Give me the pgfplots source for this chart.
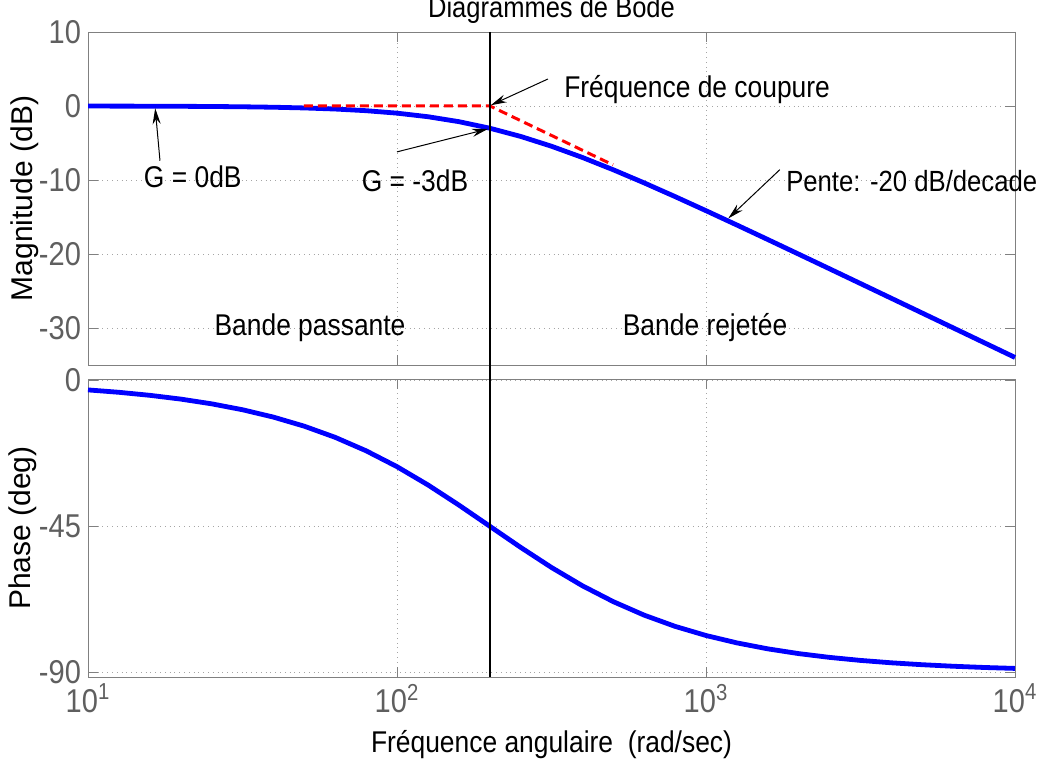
\documentclass[border=0pt]{standalone}
\usepackage{fontspec}
\setmainfont{Liberation Sans}[FakeStretch=0.88]
\newfontfamily\rotfont{Liberation Sans}
\usepackage{pgfplots}
\usepackage{pgfplotstable}
\pgfplotsset{compat=1.18}
\usetikzlibrary{arrows.meta}
\definecolor{axgray}{RGB}{128,128,128}
\definecolor{tickgray}{RGB}{95,95,95}
\definecolor{gridgray}{RGB}{165,165,165}

\pgfplotstableread{
w mag phase
10 -0.0108 -2.862
12.589 -0.0172 -3.602
15.849 -0.0272 -4.531
19.953 -0.0430 -5.697
25.119 -0.0680 -7.158
31.623 -0.1072 -8.985
39.811 -0.1688 -11.257
50.119 -0.2645 -14.069
63.096 -0.4120 -17.510
79.433 -0.6361 -21.66
100 -0.9691 -26.565
125.89 -1.4495 -32.19
158.49 -2.1164 -38.40
199.53 -3.0000 -44.93
251.19 -4.1117 -51.47
316.23 -5.4407 -57.69
398.11 -6.9568 -63.33
501.19 -8.6212 -68.24
630.96 -10.395 -72.41
794.33 -12.2463 -75.87
1000 -14.150 -78.69
1258.9 -16.0877 -80.97
1584.9 -18.048 -82.81
1995.3 -20.023 -84.28
2511.9 -22.007 -85.45
3162.3 -23.997 -86.38
3981.1 -25.990 -87.12
5011.9 -27.986 -87.71
6309.6 -29.984 -88.18
7943.3 -31.983 -88.56
10000 -33.981 -88.85
}\bode

\tikzset{
  annot/.style={font=\fontsize{15}{18}\selectfont, text=black},
  arr/.style={-{Stealth[length=8pt,width=4pt]}, black, line width=0.5pt},
}

\begin{document}
\begin{tikzpicture}[font=\fontsize{15}{18}\selectfont]
\useasboundingbox (0,0) rectangle (523.5pt,381.5pt);

% ---------- Magnitude ----------
\begin{axis}[
  scale only axis,
  width=463.5pt,
  xmode=log, log basis x=10,
  xmin=10, xmax=10000,
  xtick={10,100,1000,10000},
  axis line style={axgray},
  tick style={axgray},
  tick align=inside,
  major tick length=5pt, minor tick length=3pt,
  xmajorgrids, xminorgrids, ymajorgrids,
  major grid style={dotted, gridgray},
  minor grid style={dotted, gridgray},
  tick label style={tickgray, font=\fontsize{16.5}{19}\selectfont},
  /pgf/number format/assume math mode=true,
  clip=false,
  at={(44pt,199pt)}, anchor=south west,
  height=166.5pt,
  ymin=-35, ymax=10,
  ytick={-30,-20,-10,0,10},
  xticklabels={},
  ylabel={\rotfont Magnitude (dB)},
  ylabel style={at={(axis description cs:-0.068,0.5)}, anchor=center, font=\fontsize{15}{18}\selectfont, black},
  title={Diagrammes de Bode},
  title style={at={(axis description cs:0.5,1)}, anchor=base, yshift=1pt, inner sep=0pt, font=\fontsize{14.5}{17}\selectfont},
]
\addplot[blue, line width=2.4pt] table[x=w, y=mag] {\bode};
\addplot[red, line width=1.5pt, dash pattern=on 4.5pt off 2.5pt] coordinates {(50,0) (200,0) (500,-7.96)};
\draw[black, line width=1.3pt] (axis cs:200,10) -- (axis cs:200,-36.9);

\node[annot, anchor=west] at (axis cs:330,2.2) {Fréquence de coupure};
\draw[arr] (axis cs:308,3.65) -- (axis cs:201,0.1);

\node[annot, anchor=west] at (axis cs:14.4,-9.6) {G = 0dB};
\draw[arr] (axis cs:17.1,-7.4) -- (axis cs:16.5,-0.3);

\node[annot, anchor=west] at (axis cs:73,-10.1) {G = -3dB};
\draw[arr] (axis cs:100,-6.2) -- (axis cs:197,-3.1);

\node[annot, anchor=west, font=\fontsize{14.6}{17}\selectfont, inner sep=2pt] at (axis cs:1760,-10.1) {Pente: -20 dB/decade};
\draw[arr] (axis cs:1734,-8.6) -- (axis cs:1180,-15.2);

\node[annot] at (axis cs:52.3,-30) {Bande passante};
\node[annot] at (axis cs:993,-30) {Bande rejetée};
\end{axis}

% ---------- Phase ----------
\begin{axis}[
  scale only axis,
  width=463.5pt,
  xmode=log, log basis x=10,
  xmin=10, xmax=10000,
  xtick={10,100,1000,10000},
  axis line style={axgray},
  tick style={axgray},
  tick align=inside,
  major tick length=5pt, minor tick length=3pt,
  xmajorgrids, xminorgrids, ymajorgrids,
  major grid style={dotted, gridgray},
  minor grid style={dotted, gridgray},
  tick label style={tickgray, font=\fontsize{16.5}{19}\selectfont},
  /pgf/number format/assume math mode=true,
  clip=false,
  at={(44pt,43pt)}, anchor=south west,
  height=149pt,
  ymin=-91.5, ymax=0.5,
  ytick={-90,-45,0},
  xticklabels={10\textsuperscript{1},10\textsuperscript{2},10\textsuperscript{3},10\textsuperscript{4}},
  ylabel={\rotfont Phase (deg)},
  ylabel style={at={(axis description cs:-0.07,0.5)}, anchor=center, font=\fontsize{15}{18}\selectfont, black},
  xlabel={Fréquence angulaire\ \ (rad/sec)},
  xlabel style={at={(axis description cs:0.5,0)}, anchor=center, yshift=-34pt, font=\fontsize{15}{18}\selectfont, black},
]
\addplot[blue, line width=2.4pt] table[x=w, y=phase] {\bode};
\draw[black, line width=1.3pt] (axis cs:200,0.5) -- (axis cs:200,-91.5);
\end{axis}
\end{tikzpicture}
\end{document}
